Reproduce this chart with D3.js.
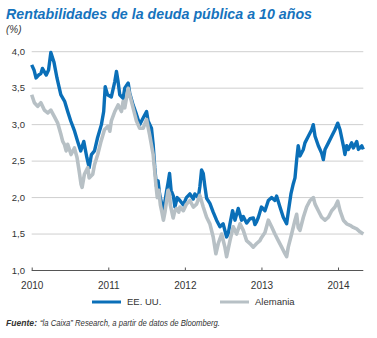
<!DOCTYPE html>
<html><head><meta charset="utf-8">
<script src="https://cdn.jsdelivr.net/npm/d3@7"></script>
<style>
html,body{margin:0;padding:0;background:#fff;}
svg{display:block;}
text{font-family:"Liberation Sans",Arial,sans-serif;}
</style></head>
<body>
<script>
// ---- data (decimal years, % yield) ----
const usT = [2010.00,2010.03,2010.057,2010.09,2010.12,2010.14,2010.19,2010.22,2010.25,2010.29,2010.33,2010.38,2010.43,2010.47,2010.51,2010.56,2010.60,2010.64,2010.68,2010.72,2010.75,2010.78,2010.82,2010.86,2010.91,2010.94,2010.96,2010.99,2011.04,2011.085,2011.107,2011.128,2011.15,2011.194,2011.215,2011.26,2011.28,2011.324,2011.368,2011.41,2011.455,2011.50,2011.52,2011.564,2011.586,2011.607,2011.63,2011.65,2011.67,2011.70,2011.72,2011.74,2011.76,2011.78,2011.80,2011.82,2011.85,2011.87,2011.90,2011.935,2011.98,2012.02,2012.066,2012.11,2012.13,2012.175,2012.196,2012.218,2012.24,2012.262,2012.284,2012.327,2012.37,2012.414,2012.458,2012.50,2012.545,2012.567,2012.589,2012.623,2012.654,2012.697,2012.741,2012.763,2012.806,2012.85,2012.894,2012.915,2012.937,2012.96,2013.0,2013.046,2013.09,2013.133,2013.176,2013.198,2013.242,2013.285,2013.329,2013.35,2013.385,2013.416,2013.438,2013.46,2013.48,2013.503,2013.547,2013.568,2013.612,2013.656,2013.677,2013.70,2013.743,2013.786,2013.808,2013.83,2013.874,2013.917,2013.96,2013.996,2014.026,2014.07,2014.09,2014.113,2014.135,2014.178,2014.20,2014.244,2014.266,2014.31,2014.33];
const usValues = [3.82,3.75,3.64,3.68,3.70,3.77,3.68,3.75,3.99,3.86,3.64,3.41,3.32,3.18,3.05,2.91,2.77,2.64,2.77,2.55,2.41,2.59,2.64,2.82,3.00,3.18,3.52,3.41,3.38,3.59,3.73,3.59,3.41,3.36,3.50,3.57,3.43,3.27,3.14,3.00,3.09,3.18,3.05,2.95,2.73,2.41,2.15,2.23,2.05,1.90,1.80,1.95,2.08,2.20,2.33,2.10,2.02,1.87,2.00,1.96,1.90,2.00,2.05,1.98,2.05,2.00,2.15,2.38,2.33,2.15,1.99,1.92,1.80,1.69,1.60,1.64,1.46,1.51,1.64,1.82,1.69,1.85,1.69,1.74,1.65,1.71,1.72,1.63,1.67,1.73,1.87,1.82,1.96,2.00,1.96,2.02,1.87,1.73,1.64,1.80,2.05,2.19,2.27,2.52,2.71,2.57,2.66,2.75,2.84,2.93,3.00,2.84,2.71,2.61,2.52,2.66,2.75,2.84,2.93,3.02,2.93,2.71,2.59,2.71,2.66,2.75,2.68,2.77,2.66,2.71,2.66];

const deT = [2010.00,2010.035,2010.078,2010.12,2010.165,2010.21,2010.25,2010.296,2010.34,2010.383,2010.405,2010.427,2010.45,2010.47,2010.514,2010.558,2010.592,2010.62,2010.645,2010.658,2010.688,2010.732,2010.75,2010.797,2010.82,2010.862,2010.905,2010.95,2010.998,2011.02,2011.04,2011.085,2011.128,2011.172,2011.194,2011.215,2011.26,2011.28,2011.324,2011.368,2011.41,2011.455,2011.50,2011.54,2011.586,2011.607,2011.62,2011.64,2011.66,2011.68,2011.70,2011.72,2011.74,2011.76,2011.78,2011.80,2011.81,2011.847,2011.87,2011.89,2011.92,2011.935,2011.98,2012.02,2012.066,2012.11,2012.153,2012.196,2012.24,2012.284,2012.327,2012.37,2012.405,2012.436,2012.48,2012.523,2012.545,2012.589,2012.632,2012.676,2012.72,2012.763,2012.806,2012.85,2012.894,2012.937,2012.98,2013.0,2013.046,2013.09,2013.133,2013.176,2013.22,2013.264,2013.307,2013.329,2013.35,2013.394,2013.438,2013.46,2013.48,2013.503,2013.547,2013.59,2013.634,2013.677,2013.70,2013.743,2013.786,2013.83,2013.874,2013.917,2013.96,2013.996,2014.026,2014.07,2014.113,2014.157,2014.20,2014.244,2014.287,2014.33];
const deValues = [3.41,3.30,3.25,3.30,3.20,3.16,3.20,3.11,3.02,2.86,2.77,2.73,2.64,2.73,2.59,2.68,2.55,2.36,2.18,2.14,2.32,2.41,2.27,2.32,2.45,2.59,2.77,2.93,2.98,2.91,3.05,3.18,3.27,3.18,3.32,3.23,3.50,3.41,3.23,3.05,2.95,2.95,3.07,2.86,2.59,2.36,2.20,2.00,2.10,1.90,1.80,1.69,1.80,1.95,2.10,2.05,1.90,1.72,1.82,1.85,1.80,1.87,1.82,1.91,1.96,1.87,1.91,2.03,1.87,1.73,1.64,1.46,1.23,1.37,1.50,1.32,1.19,1.41,1.60,1.50,1.64,1.55,1.41,1.37,1.32,1.37,1.41,1.45,1.52,1.69,1.60,1.50,1.41,1.32,1.23,1.19,1.32,1.50,1.69,1.77,1.59,1.55,1.73,1.87,1.96,2.00,1.91,1.82,1.73,1.69,1.73,1.82,1.87,1.95,1.82,1.69,1.64,1.62,1.59,1.57,1.53,1.50];

const yTicks = [1.0,1.5,2.0,2.5,3.0,3.5,4.0];
const xTicks = [2010,2011,2012,2013,2014];
const seriesNames = ["EE. UU.","Alemania"];

// ---- chart ----
const W = 377, H = 338;
const blue = "#0a6fb8", grey = "#b7c0c5", txt = "#333333";
const svg = d3.select("body").append("svg").attr("width",W).attr("height",H);

const x = d3.scaleLinear().domain([2010, 2014.33]).range([31.7, 363.3]);
const y = d3.scaleLinear().domain([1, 4]).range([270.5, 51.7]);

// title
svg.append("text").attr("x",6).attr("y",19)
  .attr("fill","#1673bd").attr("font-size",15).attr("font-weight","bold").attr("font-style","italic")
  .attr("textLength",306).attr("lengthAdjust","spacingAndGlyphs")
  .text("Rentabilidades de la deuda pública a 10 años");
svg.append("text").attr("x",6).attr("y",33).attr("fill",txt).attr("font-size",10).attr("font-style","italic").text("(%)");

// gridlines
svg.append("g").selectAll("line").data(yTicks.filter(d=>d>1)).join("line")
  .attr("x1",x.range()[0]).attr("x2",x.range()[1])
  .attr("y1",d=>y(d)).attr("y2",d=>y(d))
  .attr("stroke","#cfcfcf").attr("stroke-width",1);

// y labels
svg.append("g").selectAll("text").data(yTicks).join("text")
  .attr("x",25).attr("y",d=>y(d)).attr("dy","0.35em").attr("text-anchor","end")
  .attr("fill",txt).attr("font-size",9.5)
  .text(d=>d3.format(".1f")(d).replace(".",","));

// x axis
const xAxis = d3.axisBottom(x).tickValues(xTicks).tickSize(-3).tickPadding(9).tickFormat(d3.format("d"));
const gx = svg.append("g").attr("transform",`translate(0,${y(1)})`).call(xAxis);
gx.select(".domain").attr("stroke","#555").attr("d",`M${x.range()[0]},0H${x.range()[1]}`);
gx.selectAll(".tick line").attr("stroke","#555");
gx.selectAll(".tick text").attr("fill",txt).attr("font-size",10).attr("font-family","Liberation Sans, Arial, sans-serif").attr("dy","0.9em");

// lines
const line = d3.line().x(d=>x(d[0])).y(d=>y(d[1]));
const usData = usT.map((t,i)=>[t,usValues[i]]);
const deData = deT.map((t,i)=>[t,deValues[i]]);
svg.append("path").datum(usData).attr("d",line).attr("fill","none").attr("stroke",blue).attr("stroke-width",3.4).attr("stroke-linejoin","round");
svg.append("path").datum(deData).attr("d",line).attr("fill","none").attr("stroke",grey).attr("stroke-width",3.6).attr("stroke-linejoin","round");

// legend
const leg = [{n:seriesNames[0],c:blue,x:92},{n:seriesNames[1],c:grey,x:220}];
const lg = svg.append("g");
leg.forEach(l=>{
  lg.append("line").attr("x1",l.x).attr("x2",l.x+29).attr("y1",302).attr("y2",302).attr("stroke",l.c).attr("stroke-width",3);
  lg.append("text").attr("x",l.x+35).attr("y",302).attr("dy","0.35em").attr("fill",txt).attr("font-size",9.5).text(l.n);
});

// source
svg.append("text").attr("x",6).attr("y",326).attr("fill",txt).attr("font-size",9.5).attr("font-style","italic").attr("font-weight","bold")
  .attr("textLength",31).attr("lengthAdjust","spacingAndGlyphs").text("Fuente:");
svg.append("text").attr("x",40).attr("y",326).attr("fill",txt).attr("font-size",9.5).attr("font-style","italic")
  .attr("textLength",180).attr("lengthAdjust","spacingAndGlyphs").text("“la Caixa” Research, a partir de datos de Bloomberg.");
</script>
</body></html>
